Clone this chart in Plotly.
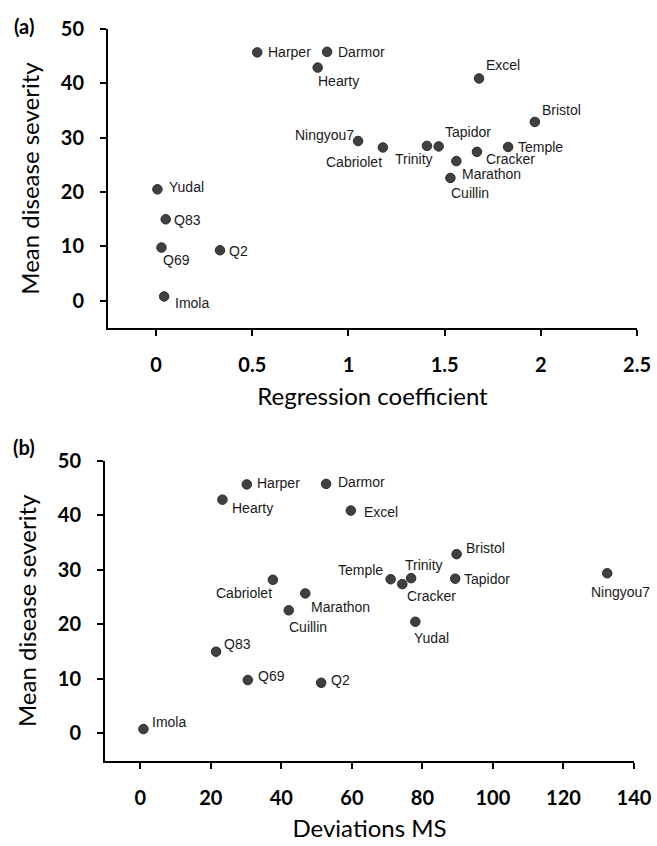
import plotly.graph_objects as go

# ---------------- data ----------------
cultivars = ["Harper", "Darmor", "Hearty", "Excel", "Bristol", "Ningyou7", "Cabriolet",
             "Trinity", "Tapidor", "Cracker", "Temple", "Marathon", "Cuillin",
             "Yudal", "Q83", "Q69", "Q2", "Imola"]
mean_severity = [45.7, 45.8, 42.9, 40.9, 32.9, 29.4, 28.2,
                 28.5, 28.4, 27.4, 28.3, 25.7, 22.6,
                 20.5, 15.0, 9.8, 9.3, 0.8]
regression_coef = [0.526, 0.889, 0.84, 1.679, 1.969, 1.05, 1.179,
                   1.408, 1.469, 1.668, 1.83, 1.561, 1.53,
                   0.007, 0.05, 0.028, 0.332, 0.042]
deviations_ms = [30.2, 52.7, 23.3, 59.7, 89.7, 132.4, 37.6,
                 76.8, 89.3, 74.3, 71.0, 46.8, 42.1,
                 78.0, 21.5, 30.5, 51.3, 0.9]

xticks_a = [0, 0.5, 1, 1.5, 2, 2.5]
xticks_b = [0, 20, 40, 60, 80, 100, 120, 140]
yticks = [0, 10, 20, 30, 40, 50]

# ---------------- label placement (style) ----------------
# (dx px, dy px downward, anchor)
label_pos_a = {
    "Harper": (10, 0, "left"), "Darmor": (10, 0, "left"), "Hearty": (-1, 13, "left"),
    "Excel": (6, -13, "left"), "Bristol": (6, -12, "left"), "Ningyou7": (-3, -6, "right"),
    "Cabriolet": (0, 14, "right"), "Trinity": (7, 13, "right"), "Tapidor": (5, -14, "left"),
    "Cracker": (8, 7, "left"), "Temple": (9, 0, "left"), "Marathon": (5, 13, "left"),
    "Cuillin": (0, 15, "left"), "Yudal": (11, -2, "left"), "Q83": (7, 1, "left"),
    "Q69": (1, 12, "left"), "Q2": (8, 1, "left"), "Imola": (10, 7, "left"),
}
label_pos_b = {
    "Harper": (9, -1, "left"), "Hearty": (9, 8, "left"), "Darmor": (11, -2, "left"),
    "Excel": (12, 1, "left"), "Bristol": (8, -6, "left"), "Temple": (-7, -9, "right"),
    "Trinity": (-7, -13, "left"), "Cracker": (4, 12, "left"), "Tapidor": (8, 0, "left"),
    "Ningyou7": (-17, 19, "left"), "Yudal": (-2, 16, "left"), "Cabriolet": (0, 13, "right"),
    "Marathon": (5, 14, "left"), "Cuillin": (-1, 17, "left"), "Q83": (7, -8, "left"),
    "Q69": (9, -4, "left"), "Q2": (9, -3, "left"), "Imola": (8, -7, "left"),
}

W, H = 657, 846
DOT = "#404040"
TICKFONT = dict(family="Lato", size=20, color="black", weight="bold")
TITLEFONT = dict(family="Lato", size=24, color="black")
LABELFONT = dict(family="Liberation Sans, Arial", size=14, color="#1a1a1a")

fig = go.Figure()
marker = dict(size=9.5, color=DOT, line=dict(color="#2b2b2b", width=1))
fig.add_trace(go.Scatter(x=regression_coef, y=mean_severity, mode="markers",
                         marker=marker, xaxis="x", yaxis="y", showlegend=False,
                         text=cultivars, hoverinfo="text+x+y"))
fig.add_trace(go.Scatter(x=deviations_ms, y=mean_severity, mode="markers",
                         marker=marker, xaxis="x2", yaxis="y2", showlegend=False,
                         text=cultivars, hoverinfo="text+x+y"))

annotations = []
for name, xv, xv2, yv in zip(cultivars, regression_coef, deviations_ms, mean_severity):
    dx, dy, anc = label_pos_a[name]
    annotations.append(dict(x=xv, y=yv, xref="x", yref="y", text=name, showarrow=False,
                            xanchor=anc, yanchor="middle", xshift=dx, yshift=-dy,
                            font=LABELFONT, borderpad=0))
    dx, dy, anc = label_pos_b[name]
    annotations.append(dict(x=xv2, y=yv, xref="x2", yref="y2", text=name, showarrow=False,
                            xanchor=anc, yanchor="middle", xshift=dx, yshift=-dy,
                            font=LABELFONT, borderpad=0))

for lab, ypix in (("(a)", 26), ("(b)", 447)):
    annotations.append(dict(x=24 / W, y=1 - ypix / H, xref="paper", yref="paper", text=lab,
                            showarrow=False, xanchor="center", yanchor="middle",
                            font=dict(family="Lato", size=20, color="black", weight="bold")))

axis_common = dict(showline=True, linecolor="black", linewidth=2, ticks="outside",
                   ticklen=6, tickwidth=2, tickcolor="black", showgrid=False,
                   zeroline=False, tickfont=TICKFONT, ticklabelstandoff=12,
                   automargin=False)

fig.update_layout(
    width=W, height=H, margin=dict(l=0, r=0, t=0, b=0, autoexpand=False),
    paper_bgcolor="white", plot_bgcolor="white", annotations=annotations,
    xaxis=dict(domain=[108 / W, 637 / W], range=[-0.25, 2.5], tickvals=xticks_a,
               ticktext=[f"{v:g}" for v in xticks_a], anchor="y",
               title=dict(text="Regression coefficient", font=TITLEFONT, standoff=13),
               **axis_common),
    yaxis=dict(domain=[1 - 328 / H, 1 - 29 / H], range=[-5, 50], tickvals=yticks,
               anchor="x",
               title=dict(text="Mean disease severity", font=TITLEFONT, standoff=14),
               **axis_common),
    xaxis2=dict(domain=[105 / W, 634 / W], range=[-10, 140], tickvals=xticks_b,
                anchor="y2",
                title=dict(text="Deviations MS", font=TITLEFONT, standoff=12),
                **axis_common),
    yaxis2=dict(domain=[1 - 760.7 / H, 1 - 461 / H], range=[-5, 50], tickvals=yticks,
                anchor="x2",
                title=dict(text="Mean disease severity", font=TITLEFONT, standoff=14),
                **axis_common),
)

fig.write_html("out.html", config={"displayModeBar": False},
               post_script="document.body.style.margin='0';"
                           "document.body.style.overflow='hidden';")
